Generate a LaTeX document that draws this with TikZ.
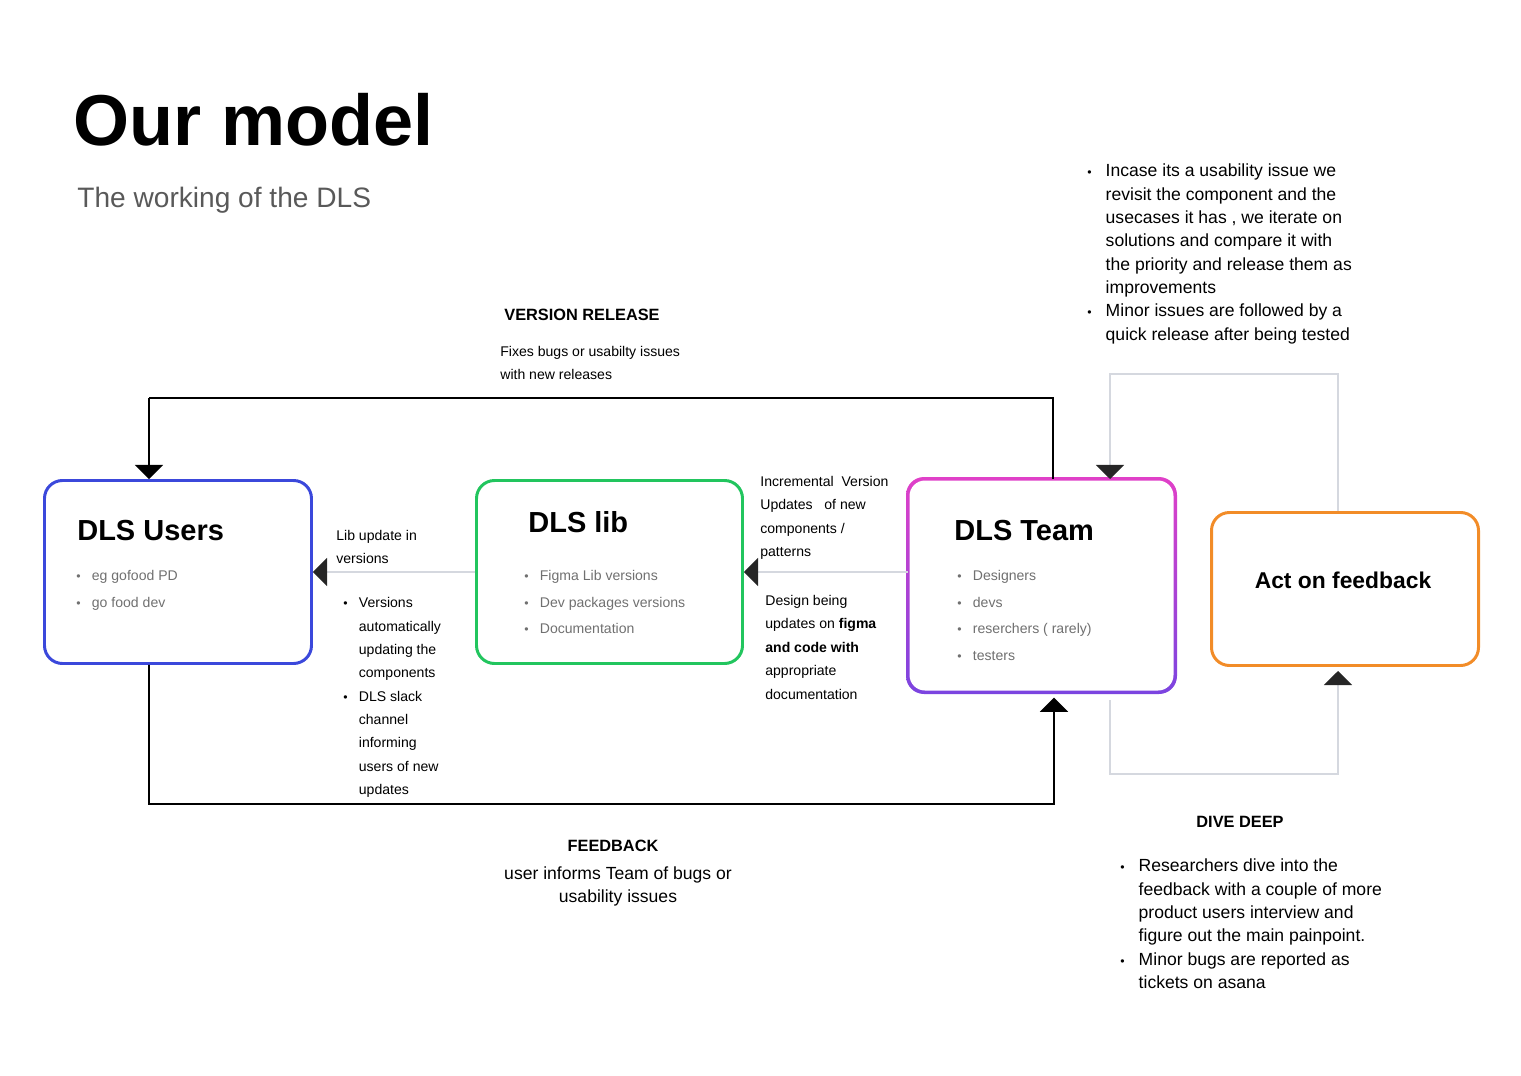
\documentclass[tikz,border=0pt]{standalone}
\usepackage{fontspec}
\setmainfont{Liberation Sans}
\usetikzlibrary{arrows.meta,positioning,calc}

\definecolor{usersBlue}{HTML}{3B48DB}
\definecolor{libGreen}{HTML}{22C55E}
\definecolor{teamPink}{HTML}{E040C8}
\definecolor{teamPurple}{HTML}{7B44E0}
\definecolor{actOrange}{HTML}{F28C28}
\definecolor{loopGray}{HTML}{D5D8DF}
\definecolor{itemGray}{HTML}{707070}

\newcommand{\bt}{{\scriptsize\textbullet}}
\newcommand{\blist}[1]{\begin{tabular}{@{}l@{\hspace{0.8em}}l@{}}#1\end{tabular}}

\tikzset{
  box/.style={draw,line width=1.7pt,rounded corners=0.36cm,anchor=north west},
  title/.style={anchor=west,inner sep=0pt,font=\fontsize{16.5}{19}\selectfont\bfseries},
  items/.style={anchor=north west,text=itemGray,font=\fontsize{8}{15.3}\selectfont,inner sep=0pt},
  note/.style={anchor=north west,font=\fontsize{8}{13.3}\selectfont,inner sep=0pt,align=left},
  bignote/.style={anchor=north west,font=\fontsize{10}{13.3}\selectfont,inner sep=0pt,align=left},
  flow/.style={line width=0.9pt,-{Triangle[width=16pt,length=8pt]}},
  thin flow/.style={line width=0.9pt,loopGray,-{Triangle[width=16pt,length=8pt,fill=black!85,color=black!85]}},
}

\begin{document}
\begin{tikzpicture}[x=0.02cm,y=-0.02cm]
  \useasboundingbox (0,0) rectangle (1521,1075);

  % Headings
  \node[anchor=west,inner sep=0pt,font=\fontsize{41}{46}\selectfont\bfseries] (head) at (73,120) {Our model};
  \node[anchor=west,inner sep=0pt,text=black!65,font=\fontsize{16}{18}\selectfont] (subhead) at (77,200) {The working of the DLS};

  % Boxes
  \node[box,usersBlue,minimum width=267*0.02cm,minimum height=183*0.02cm] (users) at (43,479) {};
  \node[box,libGreen,minimum width=266*0.02cm,minimum height=183*0.02cm] (lib) at (475,479) {};
  \shade[top color=teamPink,bottom color=teamPurple,rounded corners=0.36cm] (906,477) rectangle (1177,694);
  \fill[white,rounded corners=0.31cm] (909.5,480.5) rectangle (1173.5,690.5);
  \node[anchor=north west,minimum width=267*0.02cm,minimum height=213*0.02cm] (team) at (908,479) {};
  \node[box,actOrange,minimum width=267*0.02cm,minimum height=153*0.02cm] (act) at (1210,511) {};

  % Box contents
  \node[title] (usersT) at (77,531) {DLS Users};
  \node[items] (usersL) at (76,561) {\blist{\bt & eg gofood PD\\ \bt & go food dev}};
  \node[title] (libT) at (528,522) {DLS lib};
  \node[items] (libL) at (524,561) {\blist{\bt & Figma Lib versions\\ \bt & Dev packages versions\\ \bt & Documentation}};
  \node[title] (teamT) at (954,531) {DLS Team};
  \node[items] (teamL) at (957,561) {\blist{\bt & Designers\\ \bt & devs\\ \bt & reserchers ( rarely)\\ \bt & testers}};
  \node[anchor=center,font=\fontsize{13}{16}\selectfont\bfseries] (actT) at (1343,580) {Act on feedback};

  % Helper points
  \coordinate (relA) at (1053,398);
  \coordinate (relB) at (149,398);
  \coordinate (fbA) at (149,804);
  \coordinate (fbB) at (1054,804);
  \coordinate (loopA) at (1110,774);
  \coordinate (loopB) at (1338,774);
  \coordinate (loopC) at (1338,374);
  \coordinate (loopD) at (1110,374);

  % Connectors
  \draw[line width=0.9pt] (team.north west -| relA) -- (relA) -- (relB);
  \draw[flow] (relB) -- (users.north west -| relB);
  \draw[line width=0.9pt] (users.south west -| fbA) -- (fbA) -- (fbB) -- ($(fbB)!0.92!(team.south west -| fbB)$);
  \draw[flow] ($(fbB)!0.92!(team.south west -| fbB)$) -- ([yshift=-0.1cm]team.south west -| fbB);
  \draw[thin flow] (lib.west) -- (users.east);
  \draw[thin flow] (lib.east -| team.west) -- (lib.east);
  \draw[thin flow] (1110,700) -- (loopA) -- (loopB) -- ([yshift=-0.08cm]act.south west -| loopB);
  \draw[thin flow] (act.north west -| loopC) -- (loopC) -- (loopD) -- (team.north west -| loopD);

  % Labels
  \node[anchor=west,inner sep=0pt,font=\fontsize{9.3}{11}\selectfont\bfseries] (relT) at (504,315) {VERSION RELEASE};
  \node[note] (relN) at (500,346) {Fixes bugs or usabilty issues\\with new releases};
  \node[note] (libUp) at (336,530) {Lib update in\\versions};
  \node[note] (libUpL) at (343,591) {\blist{\bt & Versions\\ & automatically\\ & updating the\\ & components\\ \bt & DLS slack\\ & channel\\ & informing\\ & users of new\\ & updates}};
  \node[note] (incr) at (760,476) {Incremental\ \ Version\\Updates\ \ \ of new\\components /\\patterns};
  \node[note] (design) at (765,595) {Design being\\updates on \textbf{figma}\\\textbf{and code with}\\appropriate\\documentation};
  \node[bignote] (actN) at (1087,160) {\blist{\bt & Incase its a usability issue we\\ & revisit the component and the\\ & usecases it has , we iterate on\\ & solutions and compare it with\\ & the priority and release them as\\ & improvements\\ \bt & Minor issues are followed by a\\ & quick release after being tested}};
  \node[anchor=center,font=\fontsize{9.3}{11}\selectfont\bfseries] (fbT) at (613,846) {FEEDBACK};
  \node[anchor=north,inner sep=0pt,align=center,font=\fontsize{10}{13.3}\selectfont] (fbN) at (618,866) {user informs Team of bugs or\\usability issues};
  \node[anchor=center,font=\fontsize{9.3}{11}\selectfont\bfseries] (diveT) at (1240,822) {DIVE DEEP};
  \node[bignote] (diveN) at (1120,855) {\blist{\bt & Researchers dive into the\\ & feedback with a couple of more\\ & product users interview and\\ & figure out the main painpoint.\\ \bt & Minor bugs are reported as\\ & tickets on asana}};
\end{tikzpicture}
\end{document}
